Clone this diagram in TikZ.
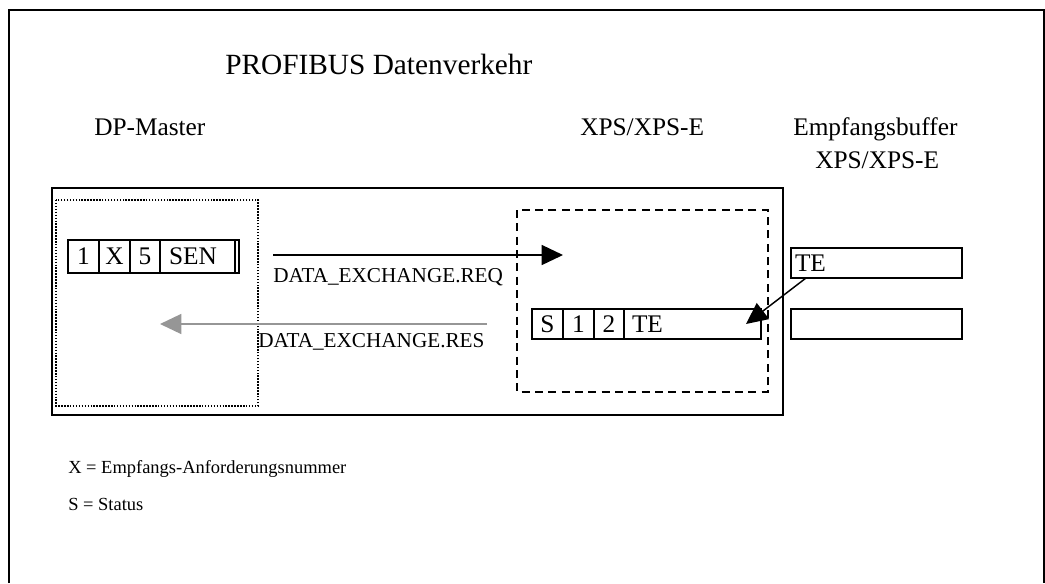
\documentclass[tikz,border=0pt]{standalone}
\usepackage{fontspec}
\setmainfont{Liberation Serif}
\usepackage{tikz}
\usetikzlibrary{arrows.meta}
\usetikzlibrary{positioning}
\definecolor{resgray}{RGB}{150,150,150}
\tikzset{
  cell/.style = {draw, line width=1.2pt, inner sep=0pt, outer sep=0pt,
                 font=\fontsize{19}{21}\selectfont},
  txt/.style = {anchor=base west, inner sep=0pt},
  bigtip/.style = {-{Triangle[length=16pt,width=15pt]}, line width=1.1pt}
}
\newcommand{\hdfont}{\fontsize{19}{22}\selectfont}
\newcommand{\lblfont}{\fontsize{15.9}{18}\selectfont}
\newcommand{\legfont}{\fontsize{13.85}{16}\selectfont}

\begin{document}
\begin{tikzpicture}[x=0.75pt, y=-0.75pt]
 \useasboundingbox (0,0) rectangle (1045,583);
 \draw[line width=2pt] (9,583) -- (9,10) -- (1044,10) -- (1044,583);
 \node[txt, font=\fontsize{22}{24}\selectfont] (title) at (225,74) {PROFIBUS Datenverkehr};
 \node[txt, font=\hdfont] (master) at (94,135) {DP-Master};
 \node[txt, font=\hdfont] (xps) at (580,135) {XPS/XPS-E};
 \node[txt, font=\hdfont] (buf) at (793,135) {Empfangsbuffer};
 \node[txt, font=\hdfont] (bufxps) at (815,168) {XPS/XPS-E};

 \draw[line width=1.3pt] (52,188) rectangle (783,415);
 \draw[line width=1.2pt, dash pattern=on 1.1pt off 1.1pt] (56,200) rectangle (258,406);
 \draw[line width=1.3pt, dash pattern=on 6pt off 4pt] (517,210) rectangle (768,392);

 \node[cell, minimum width=23.25pt, minimum height=24.75pt, anchor=north west] (m1) at (68,240) {1};
 \node[cell, minimum width=23.25pt, minimum height=24.75pt, right=0pt of m1] (mX) {X};
 \node[cell, minimum width=22.5pt, minimum height=24.75pt, right=0pt of mX] (m5) {5};
 \node[cell, minimum height=24.75pt, text width=42.75pt, inner xsep=6.75pt, align=left, right=0pt of m5] (mSEN) {SEN};
 \draw[line width=1.2pt] (mSEN.north east) -| ([xshift=3pt]mSEN.south east) -- (mSEN.south east);

 \node[cell, minimum width=23.25pt, minimum height=22.5pt, anchor=north west] (cS) at (532,309) {S};
 \node[cell, minimum width=23.25pt, minimum height=22.5pt, right=0pt of cS] (c1) {1};
 \node[cell, minimum width=22.5pt, minimum height=22.5pt, right=0pt of c1] (c2) {2};
 \node[cell, minimum height=22.5pt, text width=90.75pt, inner xsep=6pt, align=left, right=0pt of c2] (cTE) {TE};

 \node[cell, minimum height=22.5pt, text width=122.25pt, inner xsep=3pt, align=left, anchor=north west] (bufTE) at (791,248) {TE};
 \node[cell, minimum width=128.25pt, minimum height=22.5pt, anchor=north west] (bufB) at (791,309) {};

 \coordinate (reqA) at (273,255);
 \coordinate (reqB) at (563,255);
 \draw[bigtip] (reqA) -- (reqB);
 \node[txt, font=\lblfont] (reqlbl) at (273,282) {DATA\_EXCHANGE.REQ};

 \coordinate (resA) at (487,324);
 \coordinate (resB) at (160,324);
 \draw[bigtip, resgray] (resA) -- (resB);
 \node[txt, font=\lblfont] (reslbl) at (258,347) {DATA\_EXCHANGE.RES};

 \draw[bigtip] ([xshift=11.25pt]bufTE.south west) -- ([xshift=-11.25pt]cTE.east);

 \node[txt, font=\legfont] (legX) at (68,473) {X = Empfangs-Anforderungsnummer};
 \node[txt, font=\legfont] (legS) at (68,510) {S = Status};
\end{tikzpicture}
\end{document}
